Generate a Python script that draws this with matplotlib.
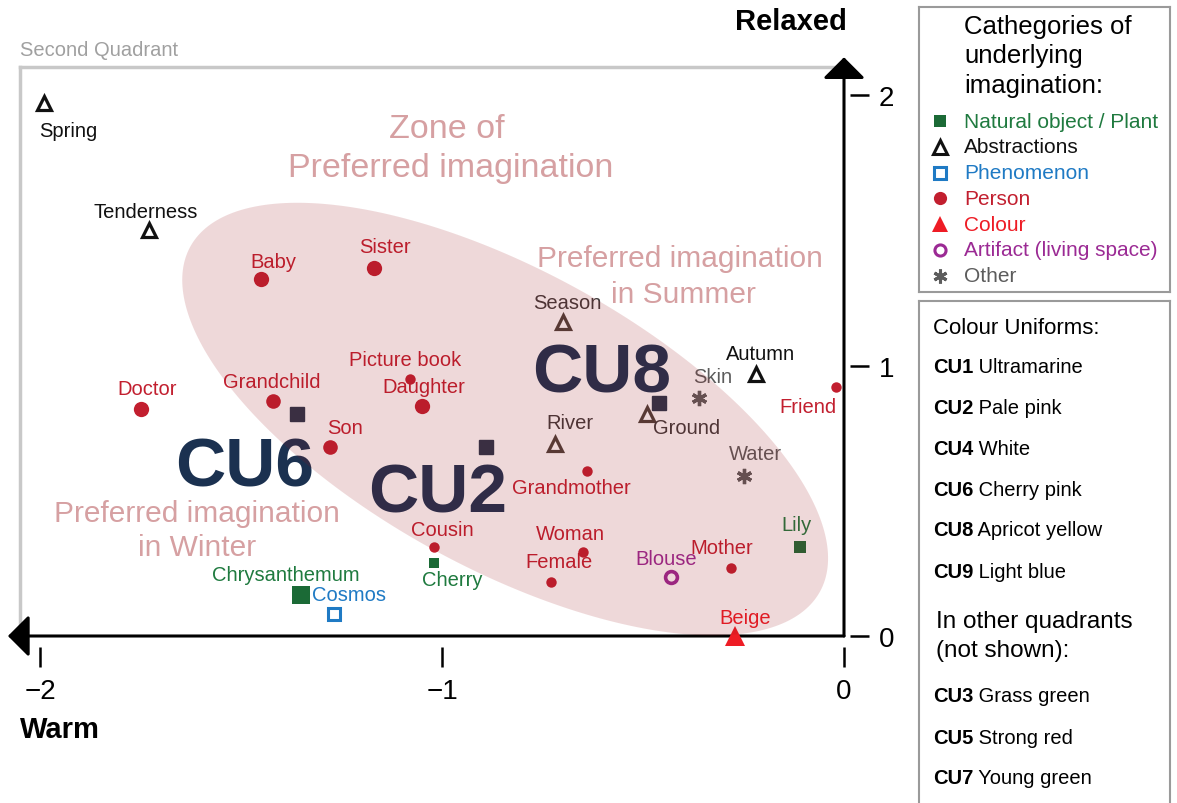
import numpy as np
import matplotlib
matplotlib.use('Agg')
import matplotlib.pyplot as plt
from matplotlib.patches import Polygon

plt.rcParams['font.family'] = ['Liberation Sans', 'DejaVu Sans']

# ---- data ----
words = ['Spring', 'Tenderness', 'Baby', 'Sister', 'Doctor', 'Grandchild',
         'Picture book', 'Daughter', 'Son', 'Cousin', 'Cherry', 'Chrysanthemum',
         'Cosmos', 'Season', 'River', 'Grandmother', 'Ground', 'Skin', 'Autumn',
         'Friend', 'Water', 'Lily', 'Mother', 'Blouse', 'Woman', 'Female', 'Beige']
warm = [-1.99, -1.73, -1.45, -1.17, -1.75, -1.42, -1.08, -1.05, -1.28, -1.02,
        -1.02, -1.35, -1.27, -0.70, -0.72, -0.64, -0.49, -0.36, -0.22, -0.02,
        -0.25, -0.11, -0.28, -0.43, -0.65, -0.73, -0.27]
relaxed = [1.97, 1.50, 1.32, 1.36, 0.84, 0.87, 0.95, 0.85, 0.70, 0.33,
           0.27, 0.15, 0.08, 1.16, 0.71, 0.61, 0.82, 0.88, 0.97, 0.92,
           0.59, 0.33, 0.25, 0.22, 0.31, 0.20, 0.00]
category = ['abstract', 'abstract', 'person', 'person', 'person', 'person',
            'person', 'person', 'person', 'person', 'natural', 'natural',
            'phenom', 'abstract', 'abstract', 'person', 'abstract', 'other', 'abstract',
            'person', 'other', 'natural', 'person', 'artifact', 'person', 'person', 'colour']

cu_names = ['CU6', 'CU2', 'CU8']
cu_x = [-1.36, -0.89, -0.46]
cu_y = [0.82, 0.70, 0.86]

cat_keys = ['natural', 'abstract', 'phenom', 'person', 'colour', 'artifact', 'other']
cat_labels = ['Natural object / Plant', 'Abstractions', 'Phenomenon', 'Person',
              'Colour', 'Artifact (living space)', 'Other']

uniform_codes = ['CU1', 'CU2', 'CU4', 'CU6', 'CU8', 'CU9']
uniform_names = ['Ultramarine', 'Pale pink', 'White', 'Cherry pink', 'Apricot yellow', 'Light blue']
other_codes = ['CU3', 'CU5', 'CU7']
other_names = ['Grass green', 'Strong red', 'Young green']

# ---- styles ----
style = {
    'natural':  dict(marker='s', mec='#1b6a36', mfc='#1b6a36', ms=8.5, mew=0, tc='#1f7a3f', lms=9),
    'abstract': dict(marker='^', mec='#111111', mfc='white', ms=10, mew=2.3, tc='#111111', lms=9.5),
    'phenom':   dict(marker='s', mec='#1f7ac4', mfc='white', ms=8.5, mew=2.2, tc='#1f7ac4', lms=8),
    'person':   dict(marker='o', mec='#c21f2f', mfc='#c21f2f', ms=7.5, mew=0, tc='#c21f2f', lms=9.5),
    'colour':   dict(marker='^', mec='#ee1c25', mfc='#ee1c25', ms=14, mew=0, tc='#ee1c25', lms=12),
    'artifact': dict(marker='o', mec='#9b2a94', mfc='white', ms=8.5, mew=2.6, tc='#9b2a94', lms=8),
    'other':    dict(marker=(6, 2, 0), mec='#5c5c5c', mfc='#5c5c5c', ms=11, mew=2.4, tc='#5c5c5c', lms=10),
}
ms_override = {'Baby': 11, 'Sister': 11, 'Doctor': 11, 'Grandchild': 10.5, 'Daughter': 11,
               'Son': 10.5, 'Chrysanthemum': 12.5, 'Cherry': 7, 'Lily': 8.5}
muted = {'Season', 'River', 'Ground'}

# label offsets in pixels (dx, dy) from the marker
offs = {'Spring': (24, -27), 'Tenderness': (-3, 19), 'Baby': (12, 18), 'Sister': (11, 22),
        'Doctor': (7, 20), 'Grandchild': (-1, 19), 'Picture book': (-5, 20), 'Daughter': (2, 20),
        'Son': (16, 19), 'Cousin': (8, 17), 'Cherry': (18, -17), 'Chrysanthemum': (-16, 21),
        'Cosmos': (15, 20), 'Season': (5, 20), 'River': (15, 21), 'Grandmother': (-15, -16),
        'Ground': (40, -13), 'Skin': (13, 22), 'Autumn': (5, 20), 'Friend': (-28, -19),
        'Water': (12, 23), 'Lily': (-3, 22), 'Mother': (-10, 21), 'Blouse': (-5, 18),
        'Woman': (-12, 19), 'Female': (8, 20), 'Beige': (10, 18)}
cu_offs = {'CU6': (-53, -71), 'CU2': (-49, -65), 'CU8': (-57, 12)}

W, H = 1177, 804
fig = plt.figure(figsize=(W / 100, H / 100), dpi=100)

ax = fig.add_axes([20 / W, (H - 637) / H, 824 / W, 569 / H])
ax.set_xlim(-2.05, 0)
ax.set_ylim(0, 2.104)
ax.patch.set_alpha(0)

for s in ['top', 'left']:
    ax.spines[s].set_color('#c8c8c8')
    ax.spines[s].set_linewidth(2.5)
ax.spines['bottom'].set_position(('outward', 8))
ax.spines['right'].set_position(('outward', 4.5))
ax.spines['bottom'].set_visible(False)
ax.spines['right'].set_visible(False)

ax.set_xticks([-2, -1, 0])
ax.set_yticks([0, 1, 2])
ax.yaxis.tick_right()
ax.tick_params(axis='x', length=14.5, width=1.8, pad=8, labelsize=20)
ax.tick_params(axis='y', length=13.5, width=1.8, pad=7, labelsize=20,
               right=True, left=False, labelright=True, labelleft=False)

# axis arrows
arrow = dict(arrowstyle='-|>,head_length=0.65,head_width=0.65', mutation_scale=20,
             lw=2.2, color='black', shrinkA=0, shrinkB=0)
ax.annotate('', xy=(-2.08, 0), xytext=(0, 0), arrowprops=arrow, annotation_clip=False, zorder=3)
ax.annotate('', xy=(0, 2.14), xytext=(0, 0), arrowprops=arrow, annotation_clip=False, zorder=3)

# points and labels
for w, x, y, c in zip(words, warm, relaxed, category):
    st = style[c]
    mec = '#4b4039' if w in muted else st['mec']
    tc = '#3f3a3a' if w in muted else st['tc']
    ax.plot(x, y, linestyle='none', marker=st['marker'], ms=ms_override.get(w, st['ms']),
            mec=mec, mfc=st['mfc'], mew=st['mew'], clip_on=False, zorder=5)
    dx, dy = offs[w]
    ax.annotate(w, (x, y), xytext=(dx, dy), textcoords='offset pixels', ha='center',
                va='center', fontsize=14.5, color=tc, zorder=6)

for n, x, y in zip(cu_names, cu_x, cu_y):
    ax.plot(x, y, linestyle='none', marker='s', ms=10, color='#27344a', zorder=5)
    dx, dy = cu_offs[n]
    ax.annotate(n, (x, y), xytext=(dx, dy), textcoords='offset pixels', ha='center',
                va='baseline', fontsize=50, weight='bold', color='#1b3150', zorder=4)

# zone of preferred imagination (semi-transparent overlay)
fig.canvas.draw()
cx, cy = ax.transData.transform((-0.843, 0.802))
t = np.linspace(0, 2 * np.pi, 300)
a, b, phi = 359, 149, np.deg2rad(-28.7)
ex = cx + a * np.cos(t) * np.cos(phi) - b * np.sin(t) * np.sin(phi)
ey = cy + a * np.cos(t) * np.sin(phi) + b * np.sin(t) * np.cos(phi)
zone = ax.transData.inverted().transform(np.column_stack([ex, ey]))
ax.add_patch(Polygon(zone, closed=True, facecolor='#9d171d', alpha=0.165,
                     edgecolor='none', zorder=7, clip_on=False))

pink = '#d6a0a2'
for txt, px, py, fs in [('Zone of', 447, 129, 24.5), ('Preferred imagination', 451, 169, 24.5),
                        ('Preferred imagination', 680, 259, 21.5), ('in Summer', 683, 295, 21.5),
                        ('Preferred imagination', 197, 514, 21.5), ('in Winter', 197, 548, 21.5)]:
    fig.text(px / W, 1 - py / H, txt, ha='center', va='center', fontsize=fs, color=pink, zorder=8)

fig.text(20 / W, 1 - 50 / H, 'Second Quadrant', ha='left', va='center', fontsize=14.5, color='#a0a0a0')
fig.text(791 / W, 1 - 22 / H, 'Relaxed', ha='center', va='center', fontsize=21, weight='bold')
fig.text(20 / W, 1 - 730 / H, 'Warm', ha='left', va='center', fontsize=21, weight='bold')


def box(x0, y0, x1, y1):
    b_ax = fig.add_axes([x0 / W, 1 - y1 / H, (x1 - x0) / W, (y1 - y0) / H])
    b_ax.set_xlim(0, x1 - x0)
    b_ax.set_ylim(y1 - y0, 0)
    b_ax.set_xticks([])
    b_ax.set_yticks([])
    for sp in b_ax.spines.values():
        sp.set_color('#9a9a9a')
        sp.set_linewidth(1.5)
    return b_ax


# legend box 1: categories
lg = box(919, 8, 1170, 293)
for i, line in enumerate(['Cathegories of', 'underlying', 'imagination:']):
    lg.text(45, 19 + 29.5 * i, line, ha='left', va='center', fontsize=18.5)
for i, (k, lab) in enumerate(zip(cat_keys, cat_labels)):
    st = style[k]
    yy = 114 + 25.8 * i
    lg.plot(21, yy, linestyle='none', marker=st['marker'], ms=st['lms'],
            mec=st['mec'], mfc=st['mfc'], mew=min(st['mew'], 2.2), clip_on=False)
    lg.text(45, yy, lab, ha='left', va='center', fontsize=15, color=st['tc'])

# legend box 2: colour uniforms
cb = box(919, 302, 1170, 808)
cb.text(14, 26, 'Colour Uniforms:', ha='left', va='center', fontsize=16)


def cu_row(y, code, name):
    tb = cb.text(14, y, code, ha='left', va='center', fontsize=14.5, weight='bold')
    cb.annotate(' ' + name, xy=(1, 0.5), xycoords=tb, ha='left', va='center', fontsize=14.5)


for i, (c, n) in enumerate(zip(uniform_codes, uniform_names)):
    cu_row(65 + 41 * i, c, n)
cb.text(17, 320, 'In other quadrants', ha='left', va='center', fontsize=17.5)
cb.text(17, 349, '(not shown):', ha='left', va='center', fontsize=17.5)
for i, (c, n) in enumerate(zip(other_codes, other_names)):
    cu_row(395 + 41 * i, c, n)

fig.savefig('out.png', dpi=100)
